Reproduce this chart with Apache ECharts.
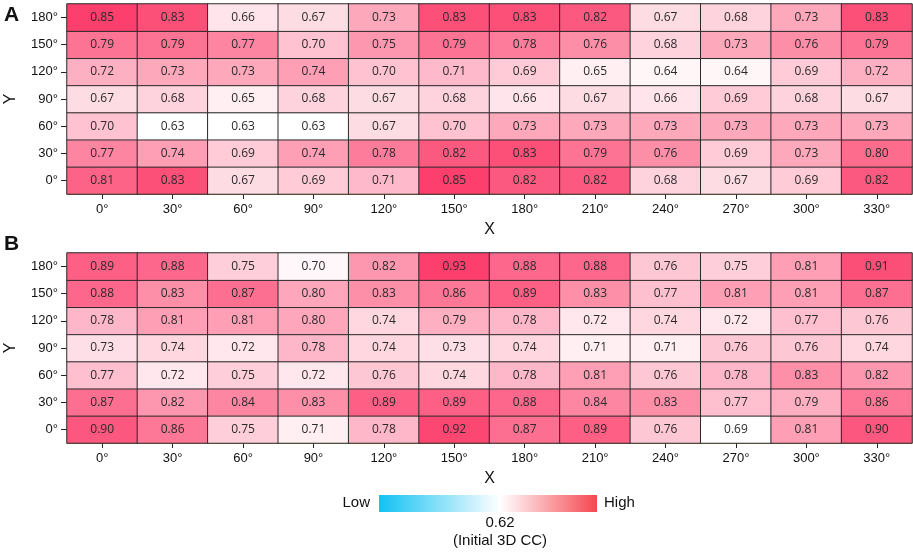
<!DOCTYPE html>
<html>
<head>
<meta charset="utf-8">
<script src="https://cdn.jsdelivr.net/npm/echarts@6/dist/echarts.min.js"></script>
<style>
  html, body { margin: 0; padding: 0; background: #fff; }
  #chart { width: 913px; height: 552px; }
</style>
</head>
<body>
<div id="chart"></div>
<script>
// categories
const xLabels = ["0°", "30°", "60°", "90°", "120°", "150°", "180°", "210°", "240°", "270°", "300°", "330°"];
const yLabels = ["0°", "30°", "60°", "90°", "120°", "150°", "180°"];

// panel A, one row per Y (0° first)
const panelA = [
  [0.81, 0.83, 0.67, 0.69, 0.71, 0.85, 0.82, 0.82, 0.68, 0.67, 0.69, 0.82],
  [0.77, 0.74, 0.69, 0.74, 0.78, 0.82, 0.83, 0.79, 0.76, 0.69, 0.73, 0.80],
  [0.70, 0.63, 0.63, 0.63, 0.67, 0.70, 0.73, 0.73, 0.73, 0.73, 0.73, 0.73],
  [0.67, 0.68, 0.65, 0.68, 0.67, 0.68, 0.66, 0.67, 0.66, 0.69, 0.68, 0.67],
  [0.72, 0.73, 0.73, 0.74, 0.70, 0.71, 0.69, 0.65, 0.64, 0.64, 0.69, 0.72],
  [0.79, 0.79, 0.77, 0.70, 0.75, 0.79, 0.78, 0.76, 0.68, 0.73, 0.76, 0.79],
  [0.85, 0.83, 0.66, 0.67, 0.73, 0.83, 0.83, 0.82, 0.67, 0.68, 0.73, 0.83]
];

// panel B
const panelB = [
  [0.90, 0.86, 0.75, 0.71, 0.78, 0.92, 0.87, 0.89, 0.76, 0.69, 0.81, 0.90],
  [0.87, 0.82, 0.84, 0.83, 0.89, 0.89, 0.88, 0.84, 0.83, 0.77, 0.79, 0.86],
  [0.77, 0.72, 0.75, 0.72, 0.76, 0.74, 0.78, 0.81, 0.76, 0.78, 0.83, 0.82],
  [0.73, 0.74, 0.72, 0.78, 0.74, 0.73, 0.74, 0.71, 0.71, 0.76, 0.76, 0.74],
  [0.78, 0.81, 0.81, 0.80, 0.74, 0.79, 0.78, 0.72, 0.74, 0.72, 0.77, 0.76],
  [0.88, 0.83, 0.87, 0.80, 0.83, 0.86, 0.89, 0.83, 0.77, 0.81, 0.81, 0.87],
  [0.89, 0.88, 0.75, 0.70, 0.82, 0.93, 0.88, 0.88, 0.76, 0.75, 0.81, 0.91]
];

const refValue = "0.62";

function toCells(rows) {
  const out = [];
  rows.forEach((row, yi) => row.forEach((v, xi) => out.push([xi, yi, v])));
  return out;
}

const chart = echarts.init(document.getElementById("chart"));
const axisFont = "Liberation Sans";

function xAxisFor(gi) {
  return {
    type: "category", gridIndex: gi, data: xLabels,
    name: "X", nameLocation: "middle", nameGap: 28,
    nameTextStyle: { fontFamily: axisFont, fontSize: 16, color: "#111" },
    axisLine: { show: true, lineStyle: { color: "#c9b34a", width: 1 } },
    axisTick: { show: true, alignWithLabel: true, length: 5, lineStyle: { color: "#222" } },
    axisLabel: { fontFamily: axisFont, fontSize: 13, color: "#111", margin: 9 },
    splitArea: { show: false }
  };
}
function yAxisFor(gi) {
  return {
    type: "category", gridIndex: gi, data: yLabels,
    name: "Y", nameLocation: "middle", nameGap: 48, nameRotate: 90,
    nameTextStyle: { fontFamily: axisFont, fontSize: 16, color: "#111" },
    axisLine: { show: false },
    axisTick: { show: true, alignWithLabel: true, length: 6, lineStyle: { color: "#222" } },
    axisLabel: { fontFamily: axisFont, fontSize: 13, color: "#111", margin: 9 }
  };
}

const cellLabel = {
  show: true, fontFamily: "Open Sans", fontSize: 12, color: "#2a2a2a",
  formatter: p => p.value[2].toFixed(2)
};

chart.setOption({
  animation: false,
  grid: [
    { left: 67, top: 4, width: 845, height: 190, outerBoundsMode: "none" },
    { left: 67, top: 253, width: 845, height: 190, outerBoundsMode: "none" }
  ],
  xAxis: [xAxisFor(0), xAxisFor(1)],
  yAxis: [yAxisFor(0), yAxisFor(1)],
  visualMap: [
    { show: false, seriesIndex: 0, min: 0.63, max: 0.85, inRange: { color: ["#ffffff", "#fc3f6c"] } },
    { show: false, seriesIndex: 1, min: 0.69, max: 0.93, inRange: { color: ["#ffffff", "#fc3f6c"] } }
  ],
  series: [
    {
      type: "heatmap", xAxisIndex: 0, yAxisIndex: 0, data: toCells(panelA),
      label: cellLabel, itemStyle: { borderColor: "#2a2a2a", borderWidth: 1 }
    },
    {
      type: "heatmap", xAxisIndex: 1, yAxisIndex: 1, data: toCells(panelB),
      label: cellLabel, itemStyle: { borderColor: "#2a2a2a", borderWidth: 1 }
    }
  ],
  graphic: [
    { type: "text", left: 4, top: 5, style: { text: "A", fontFamily: axisFont, fontWeight: "bold", fontSize: 21, fill: "#111" } },
    { type: "text", left: 4, top: 234, style: { text: "B", fontFamily: axisFont, fontWeight: "bold", fontSize: 21, fill: "#111" } },
    {
      type: "rect", shape: { x: 379, y: 495, width: 218, height: 17 },
      style: {
        fill: new echarts.graphic.LinearGradient(0, 0, 1, 0, [
          { offset: 0, color: "#12c2f2" },
          { offset: 0.556, color: "#ffffff" },
          { offset: 1, color: "#f5474f" }
        ])
      }
    },
    { type: "text", x: 370, y: 503, style: { text: "Low", fontFamily: axisFont, fontSize: 15, fill: "#111", align: "right", verticalAlign: "middle" } },
    { type: "text", x: 604, y: 503, style: { text: "High", fontFamily: axisFont, fontSize: 15, fill: "#111", align: "left", verticalAlign: "middle" } },
    { type: "text", x: 500, y: 523, style: { text: refValue, fontFamily: axisFont, fontSize: 15, fill: "#111", align: "center", verticalAlign: "middle" } },
    { type: "text", x: 500, y: 541, style: { text: "(Initial 3D CC)", fontFamily: axisFont, fontSize: 15, fill: "#111", align: "center", verticalAlign: "middle" } }
  ]
});
</script>
</body>
</html>
